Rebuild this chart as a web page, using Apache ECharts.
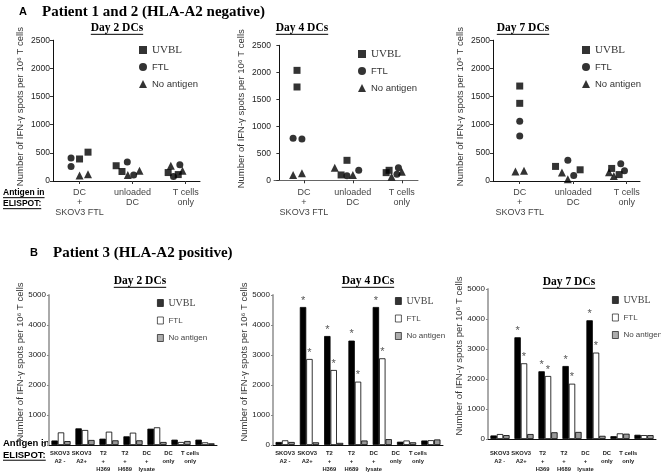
<!DOCTYPE html>
<html><head><meta charset="utf-8">
<script src="https://cdn.jsdelivr.net/npm/echarts@6/dist/echarts.min.js"></script>
<style>html,body{margin:0;padding:0;background:#fff}#c{width:661px;height:476px}</style>
</head><body><div id="c"></div>
<script>
// ---------- DATA ----------
const seriesNames = ['UVBL', 'FTL', 'No antigen'];
const catsA = ['DC\n+\nSKOV3 FTL', 'unloaded\nDC', 'T cells\nonly'];
const catsB = ['SKOV3\nA2 -', 'SKOV3\nA2+', 'T2\n+\nH369', 'T2\n+\nH689', 'DC\n+\nlysate', 'DC\nonly', 'T cells\nonly'];
const yTicksA = [0, 500, 1000, 1500, 2000, 2500];
const yTicksB = [0, 1000, 2000, 3000, 4000, 5000];

// Panel A (scatter): [category position incl. jitter, IFN-g spots]
const a1UVBL = [[0.50, 391], [0.66, 512], [1.19, 271], [1.30, 169], [2.17, 150], [2.36, 114]];
const a1FTL  = [[0.34, 409], [0.34, 259], [1.40, 337], [1.52, 108], [2.39, 289], [2.27, 78]];
const a1NoAg = [[0.50, 96], [0.66, 120], [1.41, 108], [1.63, 181], [2.22, 271], [2.44, 181]];

const a2UVBL = [[0.36, 2036], [0.36, 1728], [1.26, 99], [1.38, 370], [2.18, 142], [2.24, 185]];
const a2FTL  = [[0.28, 777], [0.46, 765], [1.38, 86], [1.62, 185], [2.40, 111], [2.43, 234]];
const a2NoAg = [[0.28, 99], [0.46, 130], [1.13, 234], [1.50, 99], [2.29, 68], [2.50, 160]];

const a3UVBL = [[0.50, 1686], [0.50, 1379], [1.17, 259], [1.63, 199], [2.22, 223], [2.36, 114]];
const a3FTL  = [[0.50, 1060], [0.50, 801], [1.40, 367], [1.51, 96], [2.39, 307], [2.46, 181]];
const a3NoAg = [[0.42, 169], [0.58, 181], [1.29, 150], [1.40, 30], [2.17, 157], [2.26, 90]];

// Panel B (bars)
const b1UVBL = [150, 555, 211, 289, 544, 178, 178];
const b1FTL  = [420, 500, 444, 411, 589, 100, 89];
const b1NoAg = [130, 167, 156, 156, 100, 133, 56];

const b2UVBL = [100, 4600, 3633, 3480, 4600, 110, 150];
const b2FTL  = [156, 2867, 2500, 2111, 2889, 150, 160];
const b2NoAg = [100, 89, 70, 150, 195, 90, 185];

const b3UVBL = [118, 3390, 2257, 2433, 3957, 94, 141];
const b3FTL  = [165, 2523, 2100, 1843, 2880, 188, 130];
const b3NoAg = [130, 165, 224, 235, 106, 176, 130];

const sigNone = [0, 0, 0, 0, 0, 0, 0];
const sigB = [0, 1, 1, 1, 1, 0, 0];

const yName = 'Number of IFN-\u03b3 spots per 10\u2076 T cells';

// ---------- LAYOUT ----------
const gridsA = [
  {left: 53, top: 40.2, width: 147, height: 140.8, xr: [0, 2.77], leg: [139, 44]},
  {left: 274, top: 45.3, width: 144, height: 135, xr: [-0.11, 2.83], leg: [358, 48]},
  {left: 493, top: 40.2, width: 147, height: 140.8, xr: [0, 2.75], leg: [582, 44]}
];
const gridsB = [
  {left: 49, top: 295, width: 168, height: 150, lab: {left: 49, width: 152}, leg: [157, 297]},
  {left: 273, top: 295, width: 170, height: 150, lab: {left: 274, width: 155}, leg: [395, 295]},
  {left: 488, top: 289, width: 168, height: 150, lab: {left: 489, width: 150}, leg: [612, 294]}
];
const aData = [[a1UVBL, a1FTL, a1NoAg], [a2UVBL, a2FTL, a2NoAg], [a3UVBL, a3FTL, a3NoAg]];
const bData = [[b1UVBL, b1FTL, b1NoAg], [b2UVBL, b2FTL, b2NoAg], [b3UVBL, b3FTL, b3NoAg]];
const bSig = [[sigNone, sigNone], [sigB, sigB], [sigB, sigB]];

const narrow = "'Liberation Sans Narrow', 'Liberation Sans', Arial, sans-serif";
const sans = "'Liberation Sans', Arial, sans-serif";
const serif = "'Liberation Serif', 'Times New Roman', serif";

const grid = [], xAxis = [], yAxis = [], series = [], legend = [];
const catPos = [0.5, 1.5, 2.5];

gridsA.forEach((g, i) => {
  grid.push({left: g.left, top: g.top, width: g.width, height: g.height});
  const gi = grid.length - 1;
  xAxis.push({
    type: 'value', gridIndex: gi, min: g.xr[0], max: g.xr[1],
    axisLine: {lineStyle: {color: i === 1 ? '#666' : '#111', width: 1}},
    axisTick: {show: true, customValues: catPos, length: 3, lineStyle: {color: '#333'}},
    axisLabel: {customValues: catPos, formatter: v => catsA[Math.round(v - 0.5)],
      fontFamily: sans, fontSize: 9, color: '#444', lineHeight: 10, margin: 7},
    splitLine: {show: false}
  });
  yAxis.push({
    type: 'value', gridIndex: gi, min: 0, max: 2500, interval: 500,
    axisLine: {show: true, lineStyle: {color: '#111'}},
    axisTick: {show: true, length: 3, lineStyle: {color: '#333'}},
    axisLabel: {formatter: v => String(v), fontFamily: narrow, fontSize: 8.5, color: '#222', margin: 3},
    splitLine: {show: false},
    name: yName, nameLocation: 'middle', nameRotate: 90, nameGap: 28, nameMoveOverlap: false,
    nameTextStyle: {fontFamily: sans, fontSize: 9.5, color: '#333', padding: [0, 0, 0, 8]}
  });
  const syms = ['rect', 'circle', 'triangle'];
  const sizes = [7, 7, 8];
  aData[i].forEach((d, k) => {
    series.push({type: 'scatter', name: seriesNames[k], xAxisIndex: gi, yAxisIndex: gi,
      data: d, symbol: syms[k], symbolSize: sizes[k], itemStyle: {color: '#000'}, silent: true});
  });
  legend.push({
    left: g.leg[0], top: g.leg[1], orient: 'vertical', selectedMode: false,
    itemWidth: 8, itemHeight: 8, itemGap: 5, padding: 0,
    textStyle: {fontFamily: narrow, fontSize: 9.5, color: '#333', lineHeight: 12},
    data: [
      {name: 'UVBL', icon: 'rect', itemStyle: {color: '#000'}, textStyle: {fontFamily: serif, fontSize: 11}},
      {name: 'FTL', icon: 'circle', itemStyle: {color: '#000'}},
      {name: 'No antigen', icon: 'triangle', itemStyle: {color: '#000'}}
    ]
  });
});

const barColors = ['#000', '#fff', '#999'];
gridsB.forEach((g, i) => {
  grid.push({left: g.left, top: g.top, width: g.width, height: g.height});
  const gi = grid.length - 1;
  xAxis.push({
    type: 'category', gridIndex: gi, data: catsB,
    axisLine: {lineStyle: {color: '#111', width: 1}},
    axisTick: {show: false}, axisLabel: {show: false}, splitLine: {show: false}
  });
  yAxis.push({
    type: 'value', gridIndex: gi, min: 0, max: 5000, interval: 1000,
    axisLine: {show: true, lineStyle: {color: '#aaa', width: 2}},
    axisTick: {show: true, length: 2, lineStyle: {color: '#888'}},
    axisLabel: {formatter: v => String(v), fontFamily: narrow, fontSize: 8, color: '#222', margin: 3},
    splitLine: {show: false},
    name: yName, nameLocation: 'middle', nameRotate: 90, nameGap: 24, nameMoveOverlap: false,
    nameTextStyle: {fontFamily: sans, fontSize: 9.5, color: '#333', padding: [0, 0, 0, 16]}
  });
  bData[i].forEach((d, k) => {
    const sig = k < 2 ? bSig[i][k] : sigNone;
    series.push({type: 'bar', name: seriesNames[k], xAxisIndex: gi, yAxisIndex: gi,
      data: d, barWidth: 6.4, barGap: '0%', silent: true,
      itemStyle: {color: barColors[k], borderColor: '#000', borderWidth: 0.8},
      label: {show: true, position: 'top', distance: 1,
        formatter: p => sig[p.dataIndex] ? '*' : '',
        fontFamily: sans, fontSize: 11, color: '#555'}
    });
  });
  // label-only axis (labels in the figure are spaced slightly tighter than bars)
  grid.push({left: g.lab.left, top: 295, width: g.lab.width, height: 150});
  const li = grid.length - 1;
  xAxis.push({type: 'category', gridIndex: li, data: catsB,
    axisLine: {show: false}, axisTick: {show: false},
    axisLabel: {interval: 0, fontFamily: sans, fontWeight: 'bold', fontSize: 5.8,
      color: '#222', lineHeight: 8, margin: 4}});
  yAxis.push({type: 'value', gridIndex: li, show: false, min: 0, max: 5000});
  legend.push({
    left: g.leg[0], top: g.leg[1], orient: 'vertical', selectedMode: false,
    itemWidth: 6, itemHeight: 7, itemGap: 5.5, padding: 0, itemStyle: {},
    textStyle: {fontFamily: narrow, fontSize: 8, color: '#444', lineHeight: 12},
    data: [
      {name: 'UVBL', icon: 'rect', itemStyle: {color: '#000', borderColor: '#000', borderWidth: 0.8}, textStyle: {fontFamily: serif, fontSize: 10}},
      {name: 'FTL', icon: 'rect', itemStyle: {color: '#fff', borderColor: '#000', borderWidth: 0.8}},
      {name: 'No antigen', icon: 'rect', itemStyle: {color: '#999', borderColor: '#000', borderWidth: 0.8}}
    ]
  });
});

// ---------- TEXT GRAPHICS ----------
const mctx = document.createElement('canvas').getContext('2d');
function tw(text, font) { mctx.font = font; return mctx.measureText(text).width; }
const graphic = [];
function txt(x, y, text, fs, fam, weight, align, underline, color) {
  graphic.push({type: 'text', x: x, y: y, style: {text: text, fontSize: fs, fontFamily: fam,
    fontWeight: weight, fill: color || '#000', align: align, verticalAlign: 'middle'}, silent: true});
  if (underline) {
    const w = tw(text, weight + ' ' + fs + 'px ' + fam);
    const x0 = align === 'center' ? x - w / 2 : x;
    graphic.push({type: 'line', shape: {x1: x0, y1: y + fs * 0.55, x2: x0 + w, y2: y + fs * 0.55},
      style: {stroke: color || '#000', lineWidth: 1}, silent: true});
  }
}
txt(19, 12, 'A', 11, sans, 'bold', 'left');
txt(42, 12, 'Patient 1 and 2 (HLA-A2 negative)', 15, serif, 'bold', 'left');
txt(117, 28, 'Day 2 DCs', 11.5, serif, 'bold', 'center', true);
txt(302, 28, 'Day 4 DCs', 11.5, serif, 'bold', 'center', true);
txt(523, 28, 'Day 7 DCs', 11.5, serif, 'bold', 'center', true);
txt(3, 193, 'Antigen in', 8.5, sans, 'bold', 'left', true);
txt(3, 204, 'ELISPOT:', 8.5, sans, 'bold', 'left', true);
txt(30, 253, 'B', 11, sans, 'bold', 'left');
txt(53, 253, 'Patient 3 (HLA-A2 positive)', 15, serif, 'bold', 'left');
txt(140, 281, 'Day 2 DCs', 11.5, serif, 'bold', 'center', true);
txt(368, 281, 'Day 4 DCs', 11.5, serif, 'bold', 'center', true);
txt(569, 282, 'Day 7 DCs', 11.5, serif, 'bold', 'center', true);
txt(3, 443, 'Antigen in', 9.5, sans, 'bold', 'left', false);
txt(3, 455, 'ELISPOT:', 9.5, sans, 'bold', 'left', true);

const chart = echarts.init(document.getElementById('c'), null, {renderer: 'canvas'});
chart.setOption({
  animation: false, backgroundColor: '#fff',
  grid, xAxis, yAxis, series, legend, graphic
});
</script></body></html>
